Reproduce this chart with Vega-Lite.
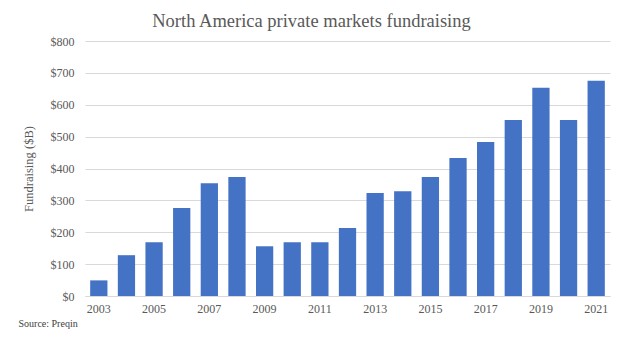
{
  "$schema": "https://vega.github.io/schema/vega-lite/v6.json",
  "width": 525,
  "height": 255,
  "autosize": {"type": "none"},
  "padding": {"left": 85, "top": 41, "right": 14, "bottom": 54},
  "background": "white",
  "title": {
    "text": "North America private markets fundraising",
    "fontSize": 18.5,
    "fontWeight": "normal",
    "color": "#595959",
    "anchor": "middle",
    "frame": "group",
    "dx": -36,
    "dy": 24,
    "baseline": "alphabetic",
    "offset": 14
  },
  "data": {
    "values": [
      {"year": "2003", "value": 49},
      {"year": "2004", "value": 128},
      {"year": "2005", "value": 169},
      {"year": "2006", "value": 276},
      {"year": "2007", "value": 354},
      {"year": "2008", "value": 373},
      {"year": "2009", "value": 156},
      {"year": "2010", "value": 169},
      {"year": "2011", "value": 169},
      {"year": "2012", "value": 213},
      {"year": "2013", "value": 323},
      {"year": "2014", "value": 329},
      {"year": "2015", "value": 373},
      {"year": "2016", "value": 433},
      {"year": "2017", "value": 483},
      {"year": "2018", "value": 552},
      {"year": "2019", "value": 653},
      {"year": "2020", "value": 552},
      {"year": "2021", "value": 675}
    ]
  },
  "mark": {"type": "bar", "color": "#4472C4"},
  "encoding": {
    "x": {
      "field": "year",
      "type": "ordinal",
      "scale": {"paddingInner": 0.375, "paddingOuter": 0.1875},
      "axis": {
        "values": ["2003", "2005", "2007", "2009", "2011", "2013", "2015", "2017", "2019", "2021"],
        "labelAngle": 0,
        "ticks": false,
        "labelPadding": 7,
        "labelFontSize": 12,
        "labelColor": "#595959",
        "domainColor": "#d9d9d9",
        "grid": false,
        "title": "Source: Preqin",
        "titleFontSize": 10,
        "titleFontWeight": "normal",
        "titleColor": "#404040",
        "titleAnchor": "start",
        "titleAlign": "left",
        "titleBaseline": "alphabetic",
        "titleX": -67,
        "titleY": 30
      }
    },
    "y": {
      "field": "value",
      "type": "quantitative",
      "scale": {"domain": [0, 800]},
      "axis": {
        "values": [0, 100, 200, 300, 400, 500, 600, 700, 800],
        "format": "$,.0f",
        "ticks": false,
        "domain": false,
        "labelPadding": 11,
        "labelFontSize": 12,
        "labelColor": "#595959",
        "gridColor": "#d9d9d9",
        "title": "Fundraising ($B)",
        "titleFontSize": 12.5,
        "titleFontWeight": "normal",
        "titleColor": "#595959",
        "titlePadding": 15
      }
    }
  },
  "config": {
    "font": "Liberation Serif",
    "axis": {"labelFont": "Liberation Serif", "titleFont": "Liberation Serif"},
    "title": {"font": "Liberation Serif"},
    "view": {"stroke": null}
  }
}
